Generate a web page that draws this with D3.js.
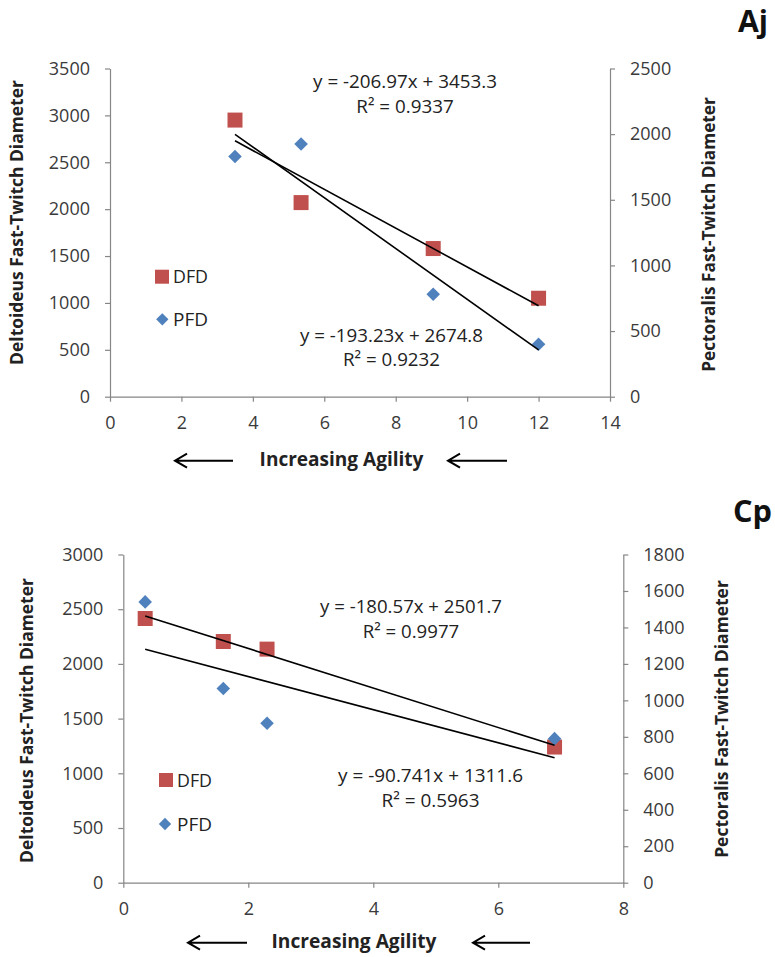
<!DOCTYPE html>
<html>
<head>
<meta charset="utf-8">
<script src="https://cdn.jsdelivr.net/npm/d3@7"></script>
<style>
  body { margin: 0; background: #fff; }
  svg { display: block; }
  text { font-family: "Open Sans", Lato, "DejaVu Sans", sans-serif; }
</style>
</head>
<body>
<svg id="chart" width="775" height="957"></svg>
<script>
// ---- Panel "Aj" ----
const agilityAj = [3.5, 5.35, 9.05, 12];
const dfdAj = [2950, 2070, 1580, 1050];
const pfdAj = [1830, 1925, 780, 400];
const slopeAj = [-206.97, -193.23];        // DFD, PFD trendlines
const interceptAj = [3453.3, 2674.8];
const r2Aj = [0.9337, 0.9232];
const xTicksAj = [0, 2, 4, 6, 8, 10, 12, 14];
const leftTicksAj = [0, 500, 1000, 1500, 2000, 2500, 3000, 3500];
const rightTicksAj = [0, 500, 1000, 1500, 2000, 2500];

// ---- Panel "Cp" ----
const agilityCp = [0.35, 1.6, 2.3, 6.9];
const dfdCp = [2415, 2205, 2135, 1240];
const pfdCp = [1540, 1065, 875, 790];
const slopeCp = [-180.57, -90.741];
const interceptCp = [2501.7, 1311.6];
const r2Cp = [0.9977, 0.5963];
const xTicksCp = [0, 2, 4, 6, 8];
const leftTicksCp = [0, 500, 1000, 1500, 2000, 2500, 3000];
const rightTicksCp = [0, 200, 400, 600, 800, 1000, 1200, 1400, 1600, 1800];

const seriesNames = ["DFD", "PFD"];
const leftTitle = "Deltoideus Fast-Twitch Diameter";
const rightTitle = "Pectoralis Fast-Twitch Diameter";
const xTitle = "Increasing Agility";

const RED = "#C0504D", BLUE = "#4F81BD";
const AXIS = "#868686", TICKTXT = "#3a3a3a", TXT = "#222";

const panels = [
  {
    label: "Aj", x: agilityAj, dfd: dfdAj, pfd: pfdAj,
    slope: slopeAj, intercept: interceptAj, r2: r2Aj,
    xTicks: xTicksAj, leftTicks: leftTicksAj, rightTicks: rightTicksAj,
    box: { x0: 110, x1: 610, y0: 68.5, y1: 396.7 },
    eq: [{ cx: 405, y: 88.3, w: 184 }, { cx: 391.5, y: 341.5, w: 183 }],
    legend: [{ cx: 162, cy: 276.7, tx: 173, ty: 283.3 }, { cx: 162.3, cy: 319.3, tx: 173, ty: 326 }],
    leftT: { x: 23.3, cy: 222.5, w: 285 }, rightT: { x: 715, cy: 234.5, w: 275 },
    tag: { x: 768, y: 32, w: 30 },
    xT: { cx: 341.5, y: 466, w: 164, ay: 460.7, arrows: [[175, 233], [448, 507]] }
  },
  {
    label: "Cp", x: agilityCp, dfd: dfdCp, pfd: pfdCp,
    slope: slopeCp, intercept: interceptCp, r2: r2Cp,
    xTicks: xTicksCp, leftTicks: leftTicksCp, rightTicks: rightTicksCp,
    box: { x0: 123.3, x1: 623.3, y0: 554.5, y1: 882.7 },
    eq: [{ cx: 411, y: 613.3, w: 182 }, { cx: 430.5, y: 781.7, w: 185 }],
    legend: [{ cx: 166, cy: 780, tx: 177, ty: 786.7 }, { cx: 165, cy: 824, tx: 177, ty: 830.5 }],
    leftT: { x: 33.3, cy: 720.5, w: 285 }, rightT: { x: 728, cy: 719, w: 278 },
    tag: { x: 772, y: 521.7, w: 39 },
    xT: { cx: 354, y: 948.3, w: 165, ay: 942.7, arrows: [[188, 247], [473, 530]] }
  }
];

const svg = d3.select("#chart");

// scale a text's font size so that its rendered width equals w
function fitWidth(sel, w) {
  const len = sel.node().getComputedTextLength();
  const fs = parseFloat(sel.style("font-size"));
  const nfs = fs * w / len;
  sel.style("font-size", nfs + "px");
  return nfs;
}

const squareSym = d3.symbol().type(d3.symbolSquare);

function styleAxis(g) {
  g.select(".domain").attr("stroke", AXIS).attr("stroke-width", 1.2);
  g.selectAll(".tick line").attr("stroke", AXIS).attr("stroke-width", 1.2);
  g.selectAll(".tick text").attr("fill", TICKTXT).style("font-size", "18px");
}

function drawArrow(g, xa, xb, y) {
  g.append("path")
    .attr("d", `M${xb},${y}H${xa}M${xa + 12},${y - 7}L${xa},${y}L${xa + 12},${y + 7}`)
    .attr("fill", "none").attr("stroke", "#000").attr("stroke-width", 2);
}

panels.forEach(p => {
  const g = svg.append("g");
  const b = p.box;
  const x = d3.scaleLinear().domain([d3.min(p.xTicks), d3.max(p.xTicks)]).range([b.x0, b.x1]);
  const yL = d3.scaleLinear().domain([0, d3.max(p.leftTicks)]).range([b.y1, b.y0]);
  const yR = d3.scaleLinear().domain([0, d3.max(p.rightTicks)]).range([b.y1, b.y0]);

  // axes
  g.append("g").attr("transform", `translate(${b.x0},0)`)
    .call(d3.axisLeft(yL).tickValues(p.leftTicks).tickSize(5).tickSizeOuter(0).tickPadding(15).tickFormat(d3.format("d")))
    .call(styleAxis);
  g.append("g").attr("transform", `translate(${b.x1},0)`)
    .call(d3.axisRight(yR).tickValues(p.rightTicks).tickSize(5).tickSizeOuter(0).tickPadding(15).tickFormat(d3.format("d")))
    .call(styleAxis);
  g.append("g").attr("transform", `translate(0,${b.y1})`)
    .call(d3.axisBottom(x).tickValues(p.xTicks).tickSize(5).tickSizeOuter(0).tickPadding(15).tickFormat(d3.format("d")))
    .call(styleAxis);

  // markers: DFD squares on the left axis, PFD diamonds on the right axis
  g.append("g").selectAll("path").data(p.x.map((v, i) => [v, p.dfd[i]])).join("path")
    .attr("d", squareSym.size(225)())
    .attr("transform", d => `translate(${x(d[0])},${yL(d[1])})`)
    .attr("fill", RED);
  g.append("g").selectAll("path").data(p.x.map((v, i) => [v, p.pfd[i]])).join("path")
    .attr("d", squareSym.size(92)())
    .attr("transform", d => `translate(${x(d[0])},${yR(d[1])}) rotate(45)`)
    .attr("fill", BLUE);

  // linear trendlines from the fitted equations
  const xmin = d3.min(p.x), xmax = d3.max(p.x);
  const scalesY = [yL, yR];
  [0, 1].forEach(k => {
    const f = v => p.slope[k] * v + p.intercept[k];
    g.append("line")
      .attr("x1", x(xmin)).attr("y1", scalesY[k](f(xmin)))
      .attr("x2", x(xmax)).attr("y2", scalesY[k](f(xmax)))
      .attr("stroke", "#000").attr("stroke-width", 1.6);
  });

  // equation labels
  [0, 1].forEach(k => {
    const e = p.eq[k];
    const t1 = g.append("text").attr("x", e.cx).attr("y", e.y).attr("text-anchor", "middle")
      .attr("fill", TXT).style("font-size", "17px")
      .text(`y = ${p.slope[k]}x + ${p.intercept[k]}`);
    const fs = fitWidth(t1, e.w);
    g.append("text").attr("x", e.cx).attr("y", e.y + 24.8).attr("text-anchor", "middle")
      .attr("fill", TXT).style("font-size", fs + "px")
      .text(`R² = ${p.r2[k]}`);
  });

  // legend
  const lg = p.legend;
  g.append("path").attr("d", squareSym.size(196)())
    .attr("transform", `translate(${lg[0].cx},${lg[0].cy})`).attr("fill", RED);
  g.append("path").attr("d", squareSym.size(76)())
    .attr("transform", `translate(${lg[1].cx},${lg[1].cy}) rotate(45)`).attr("fill", BLUE);
  [0, 1].forEach(k => {
    const t = g.append("text").attr("x", lg[k].tx).attr("y", lg[k].ty)
      .attr("fill", TXT).style("font-size", "18px").text(seriesNames[k]);
    fitWidth(t, 35);
  });

  // axis titles
  const lt = g.append("text").attr("transform", `translate(${p.leftT.x},${p.leftT.cy}) rotate(-90)`)
    .attr("text-anchor", "middle").attr("fill", TXT).style("font-weight", "bold").style("font-size", "17px")
    .text(leftTitle);
  fitWidth(lt, p.leftT.w);
  const rt = g.append("text").attr("transform", `translate(${p.rightT.x},${p.rightT.cy}) rotate(-90)`)
    .attr("text-anchor", "middle").attr("fill", TXT).style("font-weight", "bold").style("font-size", "17px")
    .text(rightTitle);
  fitWidth(rt, p.rightT.w);

  const xt = g.append("text").attr("x", p.xT.cx).attr("y", p.xT.y).attr("text-anchor", "middle")
    .attr("fill", TXT).style("font-weight", "bold").style("font-size", "20px").text(xTitle);
  fitWidth(xt, p.xT.w);
  p.xT.arrows.forEach(a => drawArrow(g, a[0], a[1], p.xT.ay));

  // panel tag
  const tg = g.append("text").attr("x", p.tag.x).attr("y", p.tag.y).attr("text-anchor", "end")
    .attr("fill", "#111").style("font-weight", "bold").style("font-size", "32px").text(p.label);
  fitWidth(tg, p.tag.w);
});
</script>
</body>
</html>
